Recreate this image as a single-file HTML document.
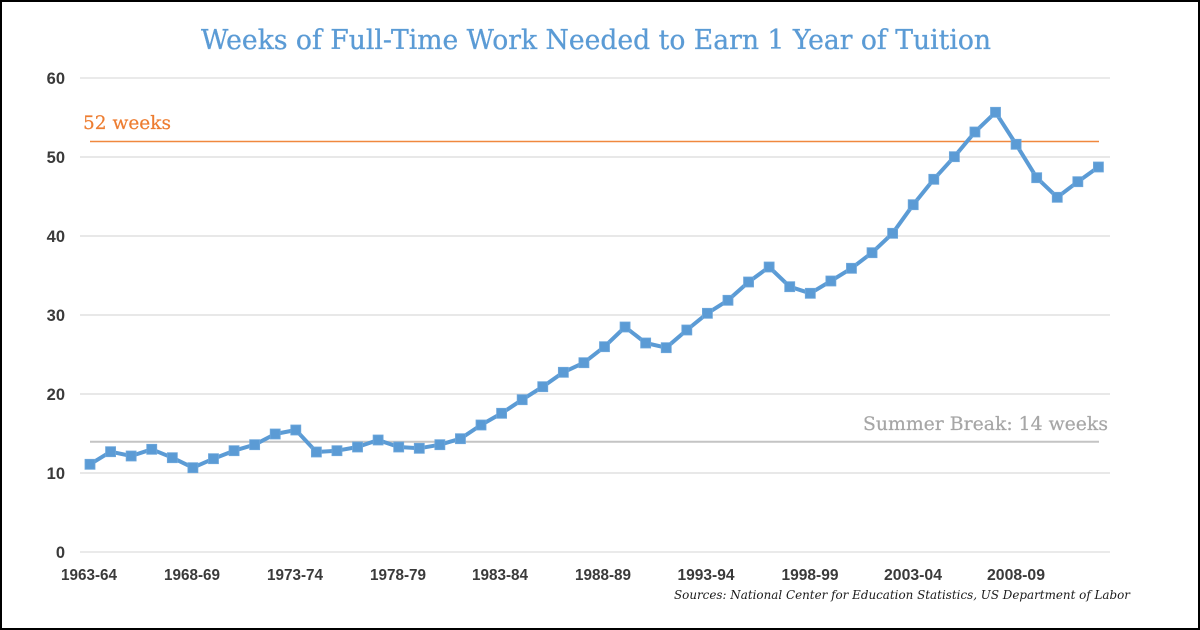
<!DOCTYPE html>
<html>
<head>
<meta charset="utf-8">
<style>
html,body{margin:0;padding:0;background:#fff;}
.wrap{width:1200px;height:630px;position:relative;box-sizing:border-box;border:2px solid #000;overflow:hidden;background:#fff;}
svg{position:absolute;left:-2px;top:-2px;}
</style>
</head>
<body>
<div class="wrap">
<svg width="1200" height="630" viewBox="0 0 1200 630" xmlns="http://www.w3.org/2000/svg">
  <defs>
    <marker id="sq" markerUnits="userSpaceOnUse" markerWidth="12" markerHeight="12" refX="6" refY="6" orient="0">
      <rect x="1" y="1" width="10" height="10" fill="#5b9bd5" stroke="#6fa8dc" stroke-width="0.8"/>
    </marker>
  </defs>
  <!-- Title -->
  <text x="201" y="49" font-family="DejaVu Serif, Liberation Serif, serif" font-size="27" fill="#5b9bd5" stroke="#5b9bd5" stroke-width="0.3" textLength="790" lengthAdjust="spacingAndGlyphs">Weeks of Full-Time Work Needed to Earn 1 Year of Tuition</text>

  <!-- gridlines -->
  <g stroke="#d9d9d9" stroke-width="1.2">
    <line x1="80" y1="78" x2="1110" y2="78" stroke="#e4e4e4" stroke-width="1.6"/>
    <line x1="80" y1="157" x2="1110" y2="157"/>
    <line x1="80" y1="236" x2="1110" y2="236"/>
    <line x1="80" y1="315" x2="1110" y2="315"/>
    <line x1="80" y1="394" x2="1110" y2="394"/>
    <line x1="80" y1="473" x2="1110" y2="473"/>
    <line x1="80" y1="552" x2="1110" y2="552" stroke="#e4e4e4" stroke-width="1.6"/>
  </g>

  <!-- y labels -->
  <g font-family="Liberation Sans, sans-serif" font-weight="bold" font-size="16.5" fill="#3a3a3a" text-anchor="end">
    <text x="65" y="84">60</text>
    <text x="65" y="163">50</text>
    <text x="65" y="242">40</text>
    <text x="65" y="321">30</text>
    <text x="65" y="400">20</text>
    <text x="65" y="479">10</text>
    <text x="65" y="558">0</text>
  </g>

  <!-- reference lines -->
  <line x1="90" y1="141.5" x2="1099" y2="141.5" stroke="#f0883e" stroke-width="1.4"/>
  <text x="83" y="129" font-family="DejaVu Serif, Liberation Serif, serif" font-size="18.5" fill="#ed7d31" stroke="#ed7d31" stroke-width="0.2" textLength="88" lengthAdjust="spacingAndGlyphs">52 weeks</text>

  <line x1="90" y1="441.7" x2="1099" y2="441.7" stroke="#c4c4c4" stroke-width="2"/>
  <text x="1108" y="430" text-anchor="end" font-family="DejaVu Serif, Liberation Serif, serif" font-size="18.5" fill="#a6a6a6" stroke="#a6a6a6" stroke-width="0.2" textLength="245" lengthAdjust="spacingAndGlyphs">Summer Break: 14 weeks</text>

  <!-- series -->
  <polyline fill="none" stroke="#5b9bd5" stroke-width="4" stroke-linejoin="round" stroke-linecap="round"
    marker-start="url(#sq)" marker-mid="url(#sq)" marker-end="url(#sq)"
    points="90,464.3 110.58,451.7 131.16,456 151.74,449.3 172.32,457.7 192.9,467.7 213.48,458.7 234.06,450.7 254.64,444.7 275.22,434 295.8,430 316.38,452 336.96,450.7 357.54,447 378.12,440 398.7,447 419.28,448.3 439.86,444.7 460.44,438.7 481.02,425 501.6,413.3 522.18,399.7 542.76,386.7 563.34,372.3 583.92,362.7 604.5,346.7 625.08,327 645.66,343 666.24,347.7 686.82,330 707.4,313.3 727.98,300.3 748.56,282 769.14,267 789.72,286.7 810.3,293.3 830.88,281 851.46,268.3 872.04,252.7 892.62,233.3 913.2,204.7 933.78,179.3 954.36,156.7 974.94,132 995.52,112.3 1016.1,144.3 1036.68,177.7 1057.26,197.3 1077.84,181.7 1098.42,167"/>

  <!-- x labels -->
  <g font-family="Liberation Sans, sans-serif" font-weight="bold" font-size="16" fill="#3a3a3a" text-anchor="middle">
    <text x="89" y="580" textLength="56" lengthAdjust="spacingAndGlyphs">1963-64</text>
    <text x="192" y="580" textLength="56" lengthAdjust="spacingAndGlyphs">1968-69</text>
    <text x="295" y="580" textLength="56" lengthAdjust="spacingAndGlyphs">1973-74</text>
    <text x="398" y="580" textLength="56" lengthAdjust="spacingAndGlyphs">1978-79</text>
    <text x="500" y="580" textLength="56" lengthAdjust="spacingAndGlyphs">1983-84</text>
    <text x="603" y="580" textLength="56" lengthAdjust="spacingAndGlyphs">1988-89</text>
    <text x="706" y="580" textLength="57" lengthAdjust="spacingAndGlyphs">1993-94</text>
    <text x="810" y="580" textLength="57" lengthAdjust="spacingAndGlyphs">1998-99</text>
    <text x="913" y="580" textLength="58" lengthAdjust="spacingAndGlyphs">2003-04</text>
    <text x="1016" y="580" textLength="58" lengthAdjust="spacingAndGlyphs">2008-09</text>
  </g>

  <!-- source -->
  <text x="674" y="599" font-family="DejaVu Serif, Liberation Serif, serif" font-style="italic" font-size="12.5" fill="#1a1a1a" textLength="456" lengthAdjust="spacingAndGlyphs">Sources: National Center for Education Statistics, US Department of Labor</text>
</svg>
</div>
</body>
</html>
